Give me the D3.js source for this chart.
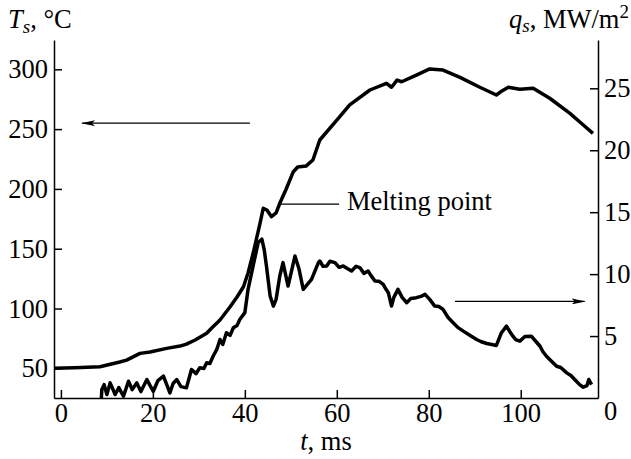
<!DOCTYPE html>
<html>
<head>
<meta charset="utf-8">
<script src="https://cdn.jsdelivr.net/npm/d3@7"></script>
<style>
  body { margin: 0; background: #fff; }
  svg text { font-family: "Liberation Serif", "Times New Roman", serif; fill: #000; }
</style>
</head>
<body>
<div id="chart"></div>
<script>
// surface temperature, t in ms, Ts in °C
const tempT = [-1.5, 3.0, 8.5, 12.8, 14.3, 17.2, 19.4, 23.0, 25.9, 27.3, 29.2, 31.7, 32.8, 34.6, 36.8, 38.3, 39.7,
  40.7, 41.8, 43.3, 44.0, 44.8, 45.8, 46.8, 47.6, 48.9, 50.5, 51.5, 53.3, 54.8, 56.3, 60.0, 62.8, 67.2, 70.8,
  71.9, 73.1, 74.1, 77.3, 80.2, 83.1, 86.8, 91.1, 94.7, 95.9, 97.3, 99.8, 102.7, 106.3, 110.7, 113.6, 115.7];
const tempVals = [50, 50.4, 51.3, 55.3, 56.9, 62.5, 63.6, 66.7, 68.6, 70.3, 73.7, 79.3, 83.7, 90.4, 101.5, 109.6, 118.2,
  129.7, 146.2, 171.2, 183.8, 182.4, 176.8, 179.9, 188, 199.1, 214.1, 218.3, 219.1, 224.2, 240.9, 257.6, 270.2, 282.7, 288.3,
  285, 291, 289.6, 295.2, 300.3, 299.4, 293.3, 285, 278.5, 281.9, 285, 283.3, 284.1, 275.8, 263.2, 253.4, 246.5];

// heat flux, t in ms, qs in MW/m2
const fluxT = [8.8, 8.9, 9.4, 10.0, 10.7, 11.8, 12.6, 13.6, 14.7, 15.5, 16.5, 17.4, 18.7, 19.4, 20.1, 21.1, 22.3,
  23.1, 23.7, 24.4, 25.2, 26.1, 27.3, 28.4, 29.4, 30.2, 31.1, 31.7, 32.4, 33.1, 33.9, 34.6, 35.2, 36.0, 36.8,
  37.5, 38.3, 38.9, 40.0, 40.7, 41.8, 42.9, 43.7, 44.2, 44.7, 45.5, 46.2, 46.8, 47.6, 48.3, 49.4, 50.9, 51.8,
  52.7, 54.5, 56.0, 56.3, 57.0, 57.8, 58.5, 59.6, 60.5, 61.4, 62.2, 63.2, 64.2, 65.0, 65.9, 66.8, 67.4, 68.3,
  69.2, 70.1, 70.7, 71.2, 71.9, 72.4, 73.3, 74.2, 75.2, 76.1, 77.3, 78.3, 79.2, 80.2, 81.3, 82.2, 83.1, 84.2,
  85.3, 86.3, 87.5, 89.0, 90.4, 91.3, 92.6, 93.7, 94.7, 95.8, 96.9, 97.6, 98.3, 98.9, 99.8, 100.9, 102.3,
  103.3, 104.2, 104.8, 105.6, 106.3, 107.8, 108.7, 110.0, 110.9, 112.1, 112.8, 113.6, 114.4, 114.8, 115.4];
const fluxVals = [0.0, 0.68, 1.08, 0.28, 1.22, 0.28, 0.84, 0.14, 1.35, 0.68, 1.22, 0.52, 1.49, 1.0, 0.54, 1.41, 1.76,
  1.0, 0.41, 1.17, 1.49, 0.92, 0.82, 2.30, 1.97, 2.44, 2.38, 2.84, 2.78, 3.37, 3.92, 4.72, 4.32, 5.27, 5.05,
  5.67, 5.86, 6.34, 6.89, 8.77, 10.66, 12.55, 12.82, 12.0, 10.66, 8.23, 7.42, 7.96, 9.85, 10.93, 9.04, 11.46, 10.39,
  8.77, 9.58, 10.93, 11.06, 10.63, 10.66, 11.04, 10.93, 10.55, 10.66, 10.47, 10.25, 10.63, 10.53, 10.06, 10.25, 9.90, 9.44,
  9.42, 9.17, 8.77, 8.50, 7.42, 8.12, 8.77, 8.12, 7.69, 8.04, 8.10, 8.20, 8.37, 7.96, 7.42, 7.39, 7.15, 6.50,
  6.08, 5.70, 5.40, 5.05, 4.72, 4.56, 4.40, 4.32, 4.24, 5.27, 5.80, 5.37, 4.99, 4.72, 4.59, 4.97, 4.99,
  4.56, 4.18, 3.75, 3.37, 3.11, 2.56, 2.46, 2.03, 1.81, 1.35, 1.08, 0.87, 1.00, 1.49, 1.08];

const tTicks = [0, 20, 40, 60, 80, 100];
const tempTicks = [50, 100, 150, 200, 250, 300];
const fluxTicks = [0, 5, 10, 15, 20, 25];

const temp = tempT.map((t, i) => ({ t: t, v: tempVals[i] }));
const flux = fluxT.map((t, i) => ({ t: t, v: fluxVals[i] }));

let width = 631,
  height = 459;
let margin = { top: 40, right: 33, bottom: 61, left: 54 };

let svg = d3.select("#chart")
  .append("svg")
  .attr("width", width)
  .attr("height", height);

let x = d3.scaleLinear()
  .domain([-1.5, 116.8])
  .range([margin.left, width - margin.right]);

let yL = d3.scaleLinear()
  .domain([25.2, 324.5])
  .range([height - margin.bottom, margin.top]);

let yR = d3.scaleLinear()
  .domain([0, 28.9])
  .range([height - margin.bottom, margin.top]);

const fontSize = "26.5px";
const subSize = "19px";

// axes
let gx = svg.append("g")
  .attr("transform", `translate(0,${height - margin.bottom})`)
  .call(d3.axisBottom(x).tickValues(tTicks).tickSize(-8).tickSizeOuter(0).tickPadding(5));

let gl = svg.append("g")
  .attr("transform", `translate(${margin.left},0)`)
  .call(d3.axisLeft(yL).tickValues(tempTicks).tickSize(-8).tickSizeOuter(0).tickPadding(6));

let gr = svg.append("g")
  .attr("transform", `translate(${width - margin.right},0)`)
  .call(d3.axisRight(yR).tickValues(fluxTicks).tickSize(-8).tickSizeOuter(0).tickPadding(6));

[gx, gl, gr].forEach(g => {
  g.attr("font-size", null).attr("font-family", null);
  g.selectAll("text").style("font-size", fontSize);
  g.selectAll("line, path").attr("stroke", "#000").attr("stroke-width", 1.5);
});

// right axis 0 sits under the corner, level with the t labels
gr.selectAll(".tick").filter(d => d === 0).select("line").remove();
gr.selectAll(".tick").filter(d => d === 0).select("text").attr("dy", "0.8em");

// curves
let line = (scale) => d3.line()
  .x(d => x(d.t))
  .y(d => scale(d.v));

svg.append("path")
  .datum(temp)
  .attr("fill", "none")
  .attr("stroke", "#000")
  .attr("stroke-width", 3.5)
  .attr("stroke-linejoin", "round")
  .attr("d", line(yL));

svg.append("path")
  .datum(flux)
  .attr("fill", "none")
  .attr("stroke", "#000")
  .attr("stroke-width", 3.5)
  .attr("stroke-linejoin", "round")
  .attr("d", line(yR));

// arrows
svg.append("defs").append("marker")
  .attr("id", "head")
  .attr("viewBox", "0 0 14 6")
  .attr("refX", 13)
  .attr("refY", 3)
  .attr("markerWidth", 14)
  .attr("markerHeight", 6)
  .attr("markerUnits", "userSpaceOnUse")
  .attr("orient", "auto")
  .append("path")
  .attr("d", "M0,0 L14,3 L0,6 L3,3 Z")
  .attr("fill", "#000");

svg.append("line")
  .attr("x1", x(41.1)).attr("x2", x(4.6))
  .attr("y1", yL(255)).attr("y2", yL(255))
  .attr("stroke", "#000").attr("stroke-width", 1.3)
  .attr("marker-end", "url(#head)");

svg.append("line")
  .attr("x1", x(85.7)).attr("x2", x(113.9))
  .attr("y1", yR(7.8)).attr("y2", yR(7.8))
  .attr("stroke", "#000").attr("stroke-width", 1.3)
  .attr("marker-end", "url(#head)");

// melting point callout
svg.append("line")
  .attr("x1", x(47.6)).attr("x2", x(60.5))
  .attr("y1", yL(187.3)).attr("y2", yL(187.3))
  .attr("stroke", "#000").attr("stroke-width", 1.3);

svg.append("text")
  .attr("x", x(62.2))
  .attr("y", yL(187.3) + 6)
  .style("font-size", fontSize)
  .text("Melting point");

// axis titles
let tl = svg.append("text")
  .attr("x", 8)
  .attr("y", 28)
  .style("font-size", fontSize);
tl.append("tspan").attr("font-style", "italic").text("T");
tl.append("tspan").attr("font-style", "italic").attr("dy", 5).style("font-size", subSize).text("s");
tl.append("tspan").attr("dy", -5).text(", °C");

let tr = svg.append("text")
  .attr("x", 629)
  .attr("y", 28)
  .attr("text-anchor", "end")
  .style("font-size", fontSize);
tr.append("tspan").attr("font-style", "italic").text("q");
tr.append("tspan").attr("font-style", "italic").attr("dy", 4).style("font-size", subSize).text("s");
tr.append("tspan").attr("dy", -4).text(", MW/m");
tr.append("tspan").attr("dy", -10).style("font-size", subSize).text("2");

let tx = svg.append("text")
  .attr("x", 326)
  .attr("y", 450)
  .attr("text-anchor", "middle")
  .style("font-size", fontSize);
tx.append("tspan").attr("font-style", "italic").text("t");
tx.append("tspan").text(", ms");
</script>
</body>
</html>
